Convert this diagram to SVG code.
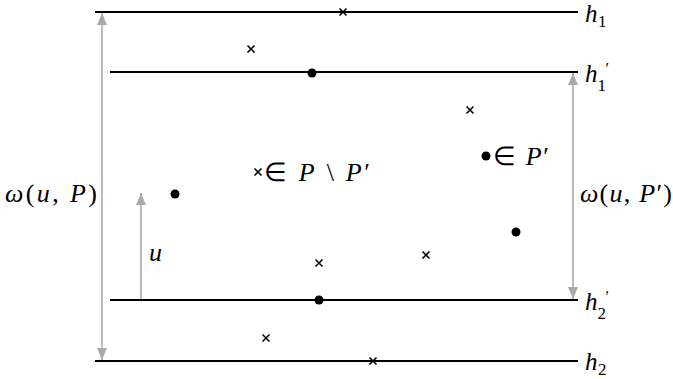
<svg xmlns="http://www.w3.org/2000/svg" width="673" height="379" viewBox="0 0 673 379">
<style>
.ln{stroke:#000;stroke-width:2;fill:none}
.ar{stroke:#aaa;stroke-width:1.6;fill:none}
.x{stroke:#000;stroke-width:1.6;fill:none}
.t{font-family:"Liberation Serif",serif;font-size:26px;fill:#000}
.h{font-family:"Liberation Serif",serif;font-size:25px;font-style:italic;fill:#000}
.i{font-style:italic}
.s{font-family:"Liberation Serif",serif;font-size:17px;fill:#000}
.p{font-family:"Liberation Serif",serif;font-size:16px;fill:#000}
</style>
<defs>
<marker id="ah" viewBox="0 0 12 10" refX="12" refY="5" markerWidth="12" markerHeight="10" markerUnits="userSpaceOnUse" orient="auto">
<path d="M0,0 L12,5 L0,10 Z" fill="#aaa"/>
</marker>
<symbol id="cr" overflow="visible"><path d="M-3.5,-3.5 L3.5,3.5 M-3.5,3.5 L3.5,-3.5" class="x"/></symbol>
</defs>
<g id="connectors">
<line class="ar" x1="102" y1="186" x2="102" y2="13" marker-end="url(#ah)"/>
<line class="ar" x1="102" y1="186" x2="102" y2="360" marker-end="url(#ah)"/>
<line class="ar" x1="573" y1="186" x2="573" y2="73" marker-end="url(#ah)"/>
<line class="ar" x1="573" y1="186" x2="573" y2="299" marker-end="url(#ah)"/>
<line class="ar" x1="141" y1="300" x2="141" y2="193" marker-end="url(#ah)"/>
</g>
<g id="h1"><line class="ln" x1="95" y1="12" x2="578" y2="12"/><text class="h" x="585" y="22">h</text><text class="s" x="598" y="27">1</text></g>
<g id="h1p"><line class="ln" x1="110" y1="72" x2="578" y2="72"/><text class="h" x="585" y="82">h</text><text class="p" x="605.5" y="74">′</text><text class="s" x="597.5" y="91">1</text></g>
<g id="h2p"><line class="ln" x1="110" y1="300" x2="578" y2="300"/><text class="h" x="585" y="310">h</text><text class="p" x="605.5" y="302">′</text><text class="s" x="597.5" y="319">2</text></g>
<g id="h2"><line class="ln" x1="95" y1="361" x2="578" y2="361"/><text class="h" x="585" y="370">h</text><text class="s" x="598" y="375">2</text></g>
<g id="points">
<use href="#cr" x="343" y="12"/>
<use href="#cr" x="251" y="49"/>
<use href="#cr" x="470" y="110"/>
<use href="#cr" x="319" y="263"/>
<use href="#cr" x="426" y="255"/>
<use href="#cr" x="266" y="338"/>
<use href="#cr" x="373" y="361"/>
<circle cx="312" cy="73" r="4.5"/>
<circle cx="175" cy="194" r="4.5"/>
<circle cx="516" cy="232" r="4.5"/>
<circle cx="319" cy="300" r="4.5"/>
</g>
<g id="legend-cross"><use href="#cr" x="258" y="172"/><text class="t" x="264" y="181" textLength="106" lengthAdjust="spacing">∈ <tspan class="i">P</tspan> \ <tspan class="i">P</tspan>′</text></g>
<g id="legend-dot"><circle cx="486" cy="156" r="4.5"/><text class="t" x="493" y="165" textLength="56" lengthAdjust="spacing">∈ <tspan class="i">P</tspan>′</text></g>
<g id="lblP"><text class="t" x="5" y="202" textLength="92" lengthAdjust="spacing"><tspan class="i">ω</tspan>(<tspan class="i">u</tspan>, <tspan class="i">P</tspan>)</text></g>
<g id="lblPp"><text class="t" x="580" y="202" textLength="92" lengthAdjust="spacing"><tspan class="i">ω</tspan>(<tspan class="i">u</tspan>, <tspan class="i">P</tspan>′)</text></g>
<g id="lblu"><text class="t i" x="149" y="261">u</text></g>
</svg>
